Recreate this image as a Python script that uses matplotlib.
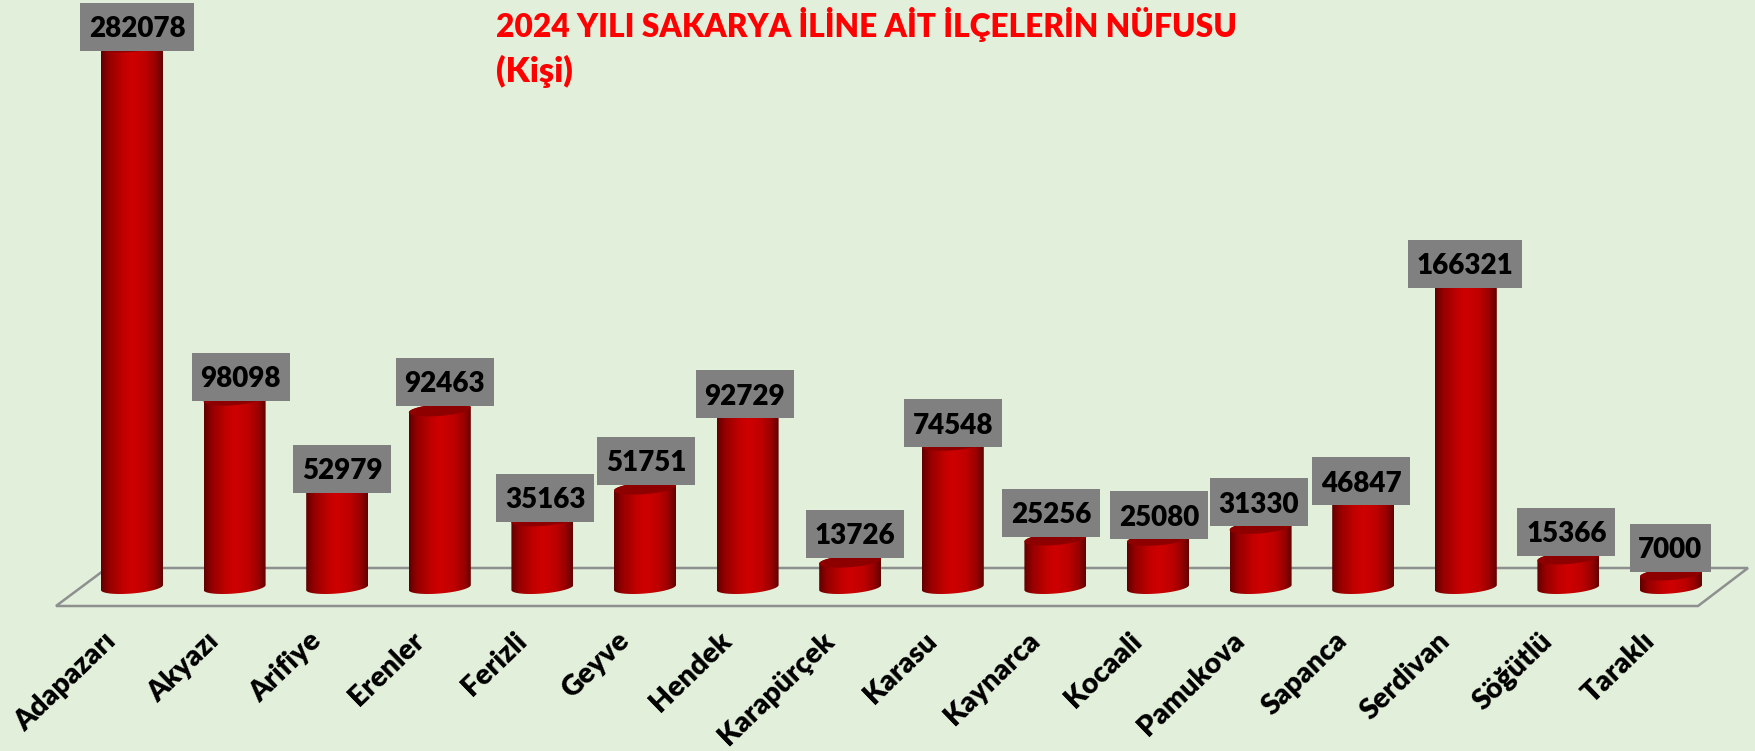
import numpy as np
import matplotlib
matplotlib.use("Agg")
import matplotlib.pyplot as plt
from matplotlib.colors import LinearSegmentedColormap
from matplotlib.patches import Polygon, Rectangle
from matplotlib.transforms import IdentityTransform, ScaledTranslation

districts = ["Adapazarı", "Akyazı", "Arifiye", "Erenler", "Ferizli", "Geyve", "Hendek", "Karapürçek",
             "Karasu", "Kaynarca", "Kocaali", "Pamukova", "Sapanca", "Serdivan", "Söğütlü", "Taraklı"]
population = [282078, 98098, 52979, 92463, 35163, 51751, 92729, 13726,
              74548, 25256, 25080, 31330, 46847, 166321, 15366, 7000]
label_shift_px = [5, 6, 5, 5, 3, 1, -3, 5, 0, -4, 1, -2, -2, -1, -2, -1]
label_drop_px = [7, 4, 9, -2, 4, -1, 11, -1, 5, 0, 2, 1, 10, 22, 0, 0]
title_lines = ["2024 YILI SAKARYA İLİNE AİT İLÇELERİN NÜFUSU", "(Kişi)"]

W, H = 1755, 751
BG = "#E2EFDA"
FONT = "Lato"
plt.rcParams["font.family"] = [FONT, "DejaVu Sans"]

fig = plt.figure(figsize=(W / 100, H / 100), dpi=100, facecolor=BG)
floor_front_px = 606
ax = fig.add_axes([0, (H - floor_front_px) / H, 1, floor_front_px / H])
ax.set_facecolor("none")

x0_px, step_px = 132.0, 102.6
base_px, px_per_unit = 587.5, 1.92 / 1000
ax.set_xlim(-x0_px / step_px, (W - x0_px) / step_px)
ylim = ((base_px - floor_front_px) / px_per_unit, base_px / px_per_unit)

half_w = 31 / step_px
ell_b = 6 / px_per_unit
ell_tilt = 2.5 / px_per_unit

cmap = LinearSegmentedColormap.from_list(
    "cyl", [(0, "#5E0000"), (0.12, "#930000"), (0.35, "#C00000"), (0.5, "#CF0000"),
            (0.72, "#BE0000"), (0.88, "#9A0000"), (1, "#620000")])
grad = np.linspace(0, 1, 128).reshape(1, -1)


def ell_points(xc, yc, t):
    return np.column_stack([xc + half_w * np.cos(t), yc + ell_b * np.sin(t) + ell_tilt * np.cos(t)])


# floor
def px2frac(x, y):
    return x / W, (floor_front_px - y) / floor_front_px


floor_px = [(56, 606), (1698, 606), (1748, 568), (107, 568)]
ax.add_patch(Polygon([px2frac(*p) for p in floor_px], closed=True, fill=False, edgecolor="#8E9090",
                     lw=1.8, transform=ax.transAxes, zorder=1, clip_on=False))

# cylinders
for i, v in enumerate(population):
    t_bot = np.linspace(np.pi, 2 * np.pi, 60)
    t_top = np.linspace(0, np.pi, 60)
    outline = np.vstack([ell_points(i, 0, t_bot), ell_points(i, v, t_top)])
    body = Polygon(outline, closed=True, facecolor="none", edgecolor="none", transform=ax.transData)
    ax.add_patch(body)
    im = ax.imshow(grad, cmap=cmap, vmin=0, vmax=1, aspect="auto", interpolation="bilinear", zorder=2 + i * 0.01,
                   extent=(i - half_w, i + half_w, -ell_b * 2, v + ell_b * 2))
    im.set_clip_path(body)
    t_all = np.linspace(0, 2 * np.pi, 90)
    ax.add_patch(Polygon(ell_points(i, v, t_all), closed=True, facecolor="#8E0000", edgecolor="none",
                         zorder=2.5 + i * 0.01))

ax.set_xlim(-x0_px / step_px, (W - x0_px) / step_px)
ax.set_ylim(*ylim)

# value labels
box_h = 48
for i, (v, s, d) in enumerate(zip(population, label_shift_px, label_drop_px)):
    text = str(v)
    box_w = {4: 81, 5: 98, 6: 114}[len(text)]
    tr = IdentityTransform() + ScaledTranslation(i, v, ax.transData)
    ax.add_patch(Rectangle((s - box_w / 2, 2.2 - d), box_w, box_h, facecolor="#808080", edgecolor="none",
                           transform=tr, zorder=5, clip_on=False))
    ax.text(s, 2.2 - d + box_h / 2, text, transform=tr, ha="center", va="center_baseline", fontsize=20,
            fontweight="heavy", color="black", zorder=6, clip_on=False)

# category axis
ax.set_xticks(range(len(districts)))
ax.set_xticklabels(districts, rotation=44, ha="right", va="center", rotation_mode="anchor",
                   fontsize=20.5, fontweight="heavy", color="black")
ax.tick_params(axis="x", length=0, pad=0)
shift = ScaledTranslation(-20 / 100, -31 / 100, fig.dpi_scale_trans)
for lab in ax.get_xticklabels():
    lab.set_transform(lab.get_transform() + shift)
ax.set_yticks([])
for sp in ax.spines.values():
    sp.set_visible(False)

# title
fig.text(496 / W, 1 - 25 / H, title_lines[0], color="#FF0000", fontsize=22.8, fontweight="heavy", ha="left", va="center")
fig.text(496 / W, 1 - 71 / H, title_lines[1], color="#FF0000", fontsize=24.7, fontweight="heavy", ha="left", va="center")

fig.savefig("out.png", dpi=100, facecolor=BG)
